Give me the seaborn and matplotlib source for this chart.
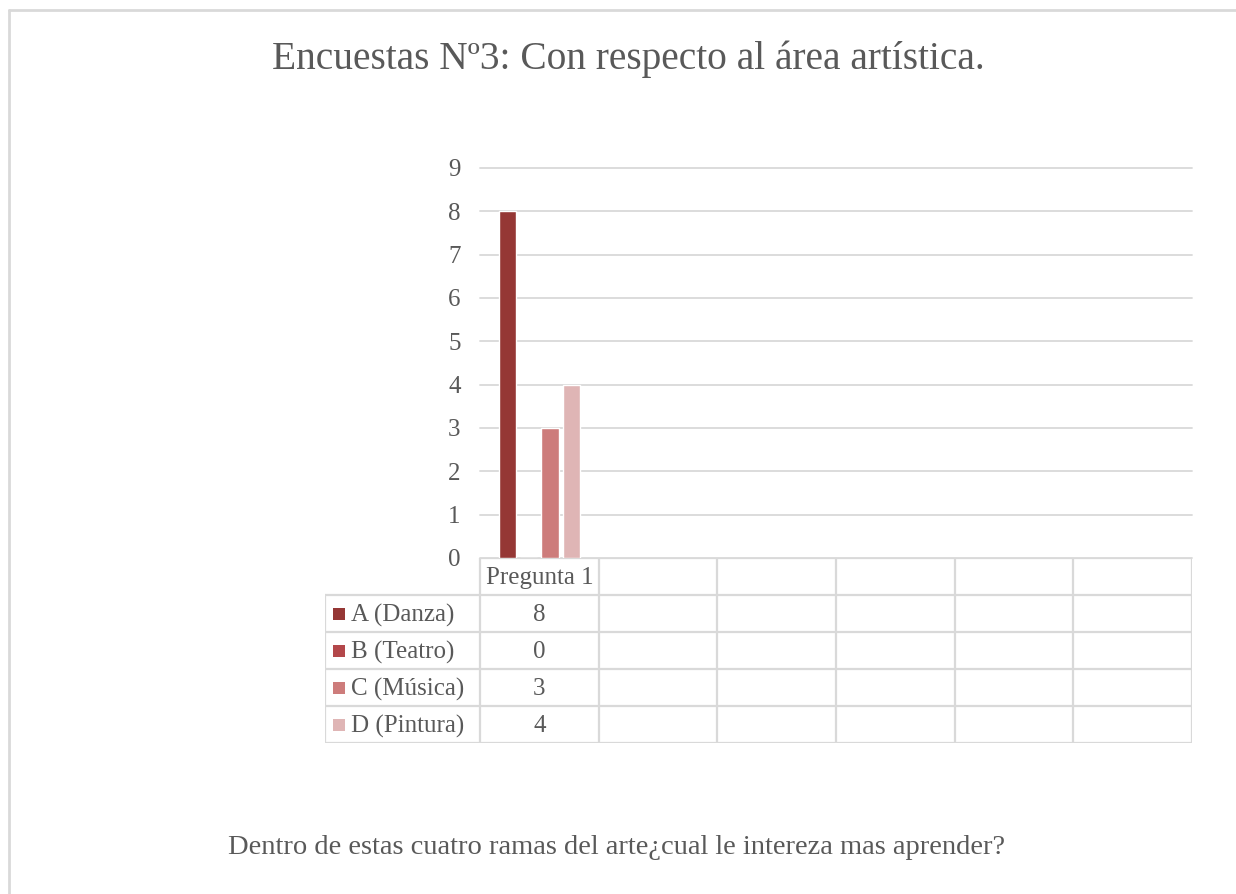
import numpy as np
import pandas as pd
import matplotlib
matplotlib.use("Agg")
import matplotlib.pyplot as plt
from matplotlib.patches import Rectangle
import seaborn as sns

# data
categories = ["Pregunta 1", "", "", "", "", ""]
series = ["A (Danza)", "B (Teatro)", "C (Música)", "D (Pintura)"]
values = [8, 0, 3, 4]
colors = ["#953735", "#B3474A", "#CD7C7B", "#DFB5B5"]
yticks = list(range(0, 10))

title = "Encuestas Nº3: Con respecto al área artística."
caption = "Dentro de estas cuatro ramas del arte¿cual le intereza mas aprender?"

sns.set_theme(style="white")
plt.rcParams["font.family"] = ["Liberation Serif", "DejaVu Serif"]
txt = "#595959"
grid = "#D9D9D9"

df = pd.DataFrame({"cat": categories[0], "serie": series, "valor": values})

W, H = 1236, 894
fig = plt.figure(figsize=(W / 100, H / 100), dpi=100)

# chart area border (left and top only visible)
fig.add_artist(plt.Line2D([9 / W, 9 / W], [0, 1 - 10 / H], color=grid, lw=2))
fig.add_artist(plt.Line2D([9 / W, 1], [1 - 10 / H, 1 - 10 / H], color=grid, lw=2))

ax = fig.add_axes([480 / W, 1 - 558 / H, 712 / W, 390 / H])
sns.barplot(data=df, x="cat", y="valor", hue="serie", order=[categories[0]],
            hue_order=series, palette=colors, width=0.72, gap=0.2,
            saturation=1, legend=False, ax=ax)
ax.set_xlim(-0.5, len(categories) - 0.5)
ax.set_ylim(0, 9)
ax.set_yticks(yticks)
ax.set_yticklabels([str(t) for t in yticks], fontsize=18, color=txt)
ax.tick_params(axis="y", length=0, pad=14)
ax.set_xticks([])
ax.set_xlabel("")
ax.set_ylabel("")
ax.yaxis.grid(True, color=grid, lw=1.3)
for gl in ax.get_ygridlines():
    gl.set_clip_on(False)
ax.set_axisbelow(True)
for s in ax.spines.values():
    s.set_visible(False)

# data table
px = 1 / (712 / 6)  # one pixel in category units
left = -0.5 - 155 * px
tb = fig.add_axes([325 / W, 1 - 743 / H, 867 / W, 185 / H])
n = len(categories)
nr = len(series) + 1
tb.set_xlim(left, n - 0.5)
tb.set_ylim(nr, 0)
tb.axis("off")
lw = 1.6
tb.plot([-0.5, n - 0.5], [0, 0], color=grid, lw=lw)
for r in range(1, nr + 1):
    tb.plot([left, n - 0.5], [r, r], color=grid, lw=lw)
for c in range(n + 1):
    tb.plot([c - 0.5, c - 0.5], [0, nr], color=grid, lw=lw)
tb.plot([left, left], [1, nr], color=grid, lw=lw)

for c, name in enumerate(categories):
    if name:
        tb.text(c, 0.55, name, ha="center", va="center", fontsize=18, color=txt)
rowpx = 185 / nr
for r, (name, val, col) in enumerate(zip(series, values, colors)):
    y = r + 1.5
    tb.add_patch(Rectangle((left + 8 * px, y - 6 / rowpx), 12 * px, 12 / rowpx,
                           color=col, lw=0))
    tb.text(left + 26 * px, y + 0.05, name, ha="left", va="center", fontsize=18, color=txt)
    tb.text(0, y + 0.05, str(val), ha="center", va="center", fontsize=18, color=txt)

fig.text(628 / W, 1 - 59 / H, title, ha="center", va="center", fontsize=28.4, color=txt)
fig.text(617 / W, 1 - 847 / H, caption, ha="center", va="center", fontsize=20.5, color=txt)

fig.savefig("out.png", dpi=100, facecolor="white")
